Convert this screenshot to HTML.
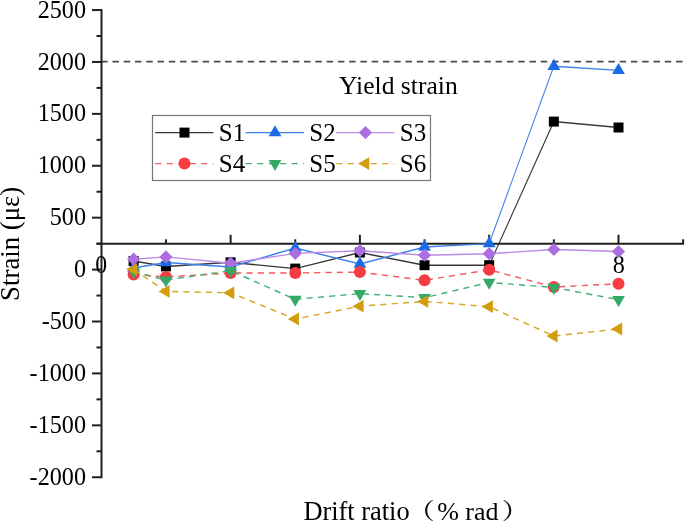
<!DOCTYPE html>
<html><head><meta charset="utf-8"><style>
html,body{margin:0;padding:0;background:#fff;width:685px;height:522px;overflow:hidden}
svg{display:block;filter:blur(0.5px)}
text{font-family:"Liberation Serif",serif;fill:#000}
</style></head><body>
<svg width="685" height="522" viewBox="0 0 685 522">
<rect width="685" height="522" fill="#fff"/>
<line x1="101.2" y1="61.6" x2="683" y2="61.6" stroke="#4a4a4a" stroke-width="1.7" stroke-dasharray="6.5 4.77"/>
<text x="339" y="94" font-size="25.6">Yield strain</text>
<line x1="101.5" y1="9" x2="101.5" y2="478.2" stroke="#1f1f1f" stroke-width="2"/>
<line x1="96.5" y1="243.8" x2="684" y2="243.8" stroke="#1f1f1f" stroke-width="2"/>
<line x1="92" y1="10.05" x2="101" y2="10.05" stroke="#1f1f1f" stroke-width="2"/>
<text transform="translate(86,17.65) scale(0.93,1)" font-size="26" text-anchor="end">2500</text>
<line x1="96.5" y1="36.01" x2="101" y2="36.01" stroke="#1f1f1f" stroke-width="2"/>
<line x1="92" y1="61.96" x2="101" y2="61.96" stroke="#1f1f1f" stroke-width="2"/>
<text transform="translate(86,69.56) scale(0.93,1)" font-size="26" text-anchor="end">2000</text>
<line x1="96.5" y1="87.92" x2="101" y2="87.92" stroke="#1f1f1f" stroke-width="2"/>
<line x1="92" y1="113.87" x2="101" y2="113.87" stroke="#1f1f1f" stroke-width="2"/>
<text transform="translate(86,121.47) scale(0.93,1)" font-size="26" text-anchor="end">1500</text>
<line x1="96.5" y1="139.83" x2="101" y2="139.83" stroke="#1f1f1f" stroke-width="2"/>
<line x1="92" y1="165.78" x2="101" y2="165.78" stroke="#1f1f1f" stroke-width="2"/>
<text transform="translate(86,173.38) scale(0.93,1)" font-size="26" text-anchor="end">1000</text>
<line x1="96.5" y1="191.74" x2="101" y2="191.74" stroke="#1f1f1f" stroke-width="2"/>
<line x1="92" y1="217.69" x2="101" y2="217.69" stroke="#1f1f1f" stroke-width="2"/>
<text transform="translate(86,225.29) scale(0.93,1)" font-size="26" text-anchor="end">500</text>
<line x1="96.5" y1="243.65" x2="101" y2="243.65" stroke="#1f1f1f" stroke-width="2"/>
<line x1="92" y1="269.60" x2="101" y2="269.60" stroke="#1f1f1f" stroke-width="2"/>
<text transform="translate(86,277.20) scale(0.93,1)" font-size="26" text-anchor="end">0</text>
<line x1="96.5" y1="295.56" x2="101" y2="295.56" stroke="#1f1f1f" stroke-width="2"/>
<line x1="92" y1="321.51" x2="101" y2="321.51" stroke="#1f1f1f" stroke-width="2"/>
<text transform="translate(86,329.11) scale(0.93,1)" font-size="26" text-anchor="end">-500</text>
<line x1="96.5" y1="347.47" x2="101" y2="347.47" stroke="#1f1f1f" stroke-width="2"/>
<line x1="92" y1="373.42" x2="101" y2="373.42" stroke="#1f1f1f" stroke-width="2"/>
<text transform="translate(86,381.02) scale(0.93,1)" font-size="26" text-anchor="end">-1000</text>
<line x1="96.5" y1="399.38" x2="101" y2="399.38" stroke="#1f1f1f" stroke-width="2"/>
<line x1="92" y1="425.33" x2="101" y2="425.33" stroke="#1f1f1f" stroke-width="2"/>
<text transform="translate(86,432.93) scale(0.93,1)" font-size="26" text-anchor="end">-1500</text>
<line x1="96.5" y1="451.29" x2="101" y2="451.29" stroke="#1f1f1f" stroke-width="2"/>
<line x1="92" y1="477.24" x2="101" y2="477.24" stroke="#1f1f1f" stroke-width="2"/>
<text transform="translate(86,484.84) scale(0.93,1)" font-size="26" text-anchor="end">-2000</text>
<line x1="165.95" y1="239.30" x2="165.95" y2="243.8" stroke="#1f1f1f" stroke-width="2"/>
<line x1="230.60" y1="234.80" x2="230.60" y2="243.8" stroke="#1f1f1f" stroke-width="2"/>
<line x1="295.25" y1="239.30" x2="295.25" y2="243.8" stroke="#1f1f1f" stroke-width="2"/>
<line x1="359.90" y1="234.80" x2="359.90" y2="243.8" stroke="#1f1f1f" stroke-width="2"/>
<line x1="424.55" y1="239.30" x2="424.55" y2="243.8" stroke="#1f1f1f" stroke-width="2"/>
<line x1="489.20" y1="234.80" x2="489.20" y2="243.8" stroke="#1f1f1f" stroke-width="2"/>
<line x1="553.85" y1="239.30" x2="553.85" y2="243.8" stroke="#1f1f1f" stroke-width="2"/>
<line x1="618.50" y1="234.80" x2="618.50" y2="243.8" stroke="#1f1f1f" stroke-width="2"/>
<line x1="683.15" y1="239.30" x2="683.15" y2="243.8" stroke="#1f1f1f" stroke-width="2"/>
<text transform="translate(101.3,273.2) scale(0.95,1)" font-size="25" text-anchor="middle">0</text>
<text transform="translate(618.7,273.2) scale(0.93,1)" font-size="26" text-anchor="middle">8</text>
<polyline transform="scale(0.72,1)" points="185.59,261.00 230.49,266.40 320.28,262.30 410.07,268.60 499.86,252.50 589.65,265.20 679.44,265.20 769.24,121.60 859.03,127.50" fill="none" stroke="#383838" stroke-width="1.45"/>
<rect x="128.62" y="256.00" width="10" height="10" fill="#000000"/>
<rect x="160.95" y="261.40" width="10" height="10" fill="#000000"/>
<rect x="225.60" y="257.30" width="10" height="10" fill="#000000"/>
<rect x="290.25" y="263.60" width="10" height="10" fill="#000000"/>
<rect x="354.90" y="247.50" width="10" height="10" fill="#000000"/>
<rect x="419.55" y="260.20" width="10" height="10" fill="#000000"/>
<rect x="484.20" y="260.20" width="10" height="10" fill="#000000"/>
<rect x="548.85" y="116.60" width="10" height="10" fill="#000000"/>
<rect x="613.50" y="122.50" width="10" height="10" fill="#000000"/>
<polyline transform="scale(0.72,1)" points="185.59,268.00 230.49,262.60 320.28,267.00 410.07,248.10 499.86,264.00 589.65,247.00 679.44,243.60 769.24,66.20 859.03,70.40" fill="none" stroke="#3a82ea" stroke-width="1.45"/>
<polygon points="133.62,260.61 140.03,271.69 127.22,271.69" fill="#1b6be6"/>
<polygon points="165.95,255.21 172.35,266.29 159.55,266.29" fill="#1b6be6"/>
<polygon points="230.60,259.61 237.00,270.69 224.20,270.69" fill="#1b6be6"/>
<polygon points="295.25,240.71 301.65,251.79 288.85,251.79" fill="#1b6be6"/>
<polygon points="359.90,256.61 366.30,267.69 353.50,267.69" fill="#1b6be6"/>
<polygon points="424.55,239.61 430.95,250.69 418.15,250.69" fill="#1b6be6"/>
<polygon points="489.20,236.21 495.60,247.29 482.80,247.29" fill="#1b6be6"/>
<polygon points="553.85,58.81 560.25,69.89 547.45,69.89" fill="#1b6be6"/>
<polygon points="618.50,63.01 624.90,74.09 612.10,74.09" fill="#1b6be6"/>
<polyline transform="scale(0.72,1)" points="185.59,259.20 230.49,256.90 320.28,263.20 410.07,253.40 499.86,250.70 589.65,255.20 679.44,253.70 769.24,249.50 859.03,251.50" fill="none" stroke="#bd8ae8" stroke-width="1.45"/>
<polygon points="133.62,252.60 140.22,259.20 133.62,265.80 127.03,259.20" fill="#ad6fe0"/>
<polygon points="165.95,250.30 172.55,256.90 165.95,263.50 159.35,256.90" fill="#ad6fe0"/>
<polygon points="230.60,256.60 237.20,263.20 230.60,269.80 224.00,263.20" fill="#ad6fe0"/>
<polygon points="295.25,246.80 301.85,253.40 295.25,260.00 288.65,253.40" fill="#ad6fe0"/>
<polygon points="359.90,244.10 366.50,250.70 359.90,257.30 353.30,250.70" fill="#ad6fe0"/>
<polygon points="424.55,248.60 431.15,255.20 424.55,261.80 417.95,255.20" fill="#ad6fe0"/>
<polygon points="489.20,247.10 495.80,253.70 489.20,260.30 482.60,253.70" fill="#ad6fe0"/>
<polygon points="553.85,242.90 560.45,249.50 553.85,256.10 547.25,249.50" fill="#ad6fe0"/>
<polygon points="618.50,244.90 625.10,251.50 618.50,258.10 611.90,251.50" fill="#ad6fe0"/>
<polyline points="133.62,274.40 165.95,277.00 230.60,273.00 295.25,273.00 359.90,272.10 424.55,280.30 489.20,269.80 553.85,287.00 618.50,283.80" fill="none" stroke="#f45a5f" stroke-width="1.45" stroke-dasharray="6.2 5.1"/>
<circle cx="133.62" cy="274.40" r="6" fill="#f43c42"/>
<circle cx="165.95" cy="277.00" r="6" fill="#f43c42"/>
<circle cx="230.60" cy="273.00" r="6" fill="#f43c42"/>
<circle cx="295.25" cy="273.00" r="6" fill="#f43c42"/>
<circle cx="359.90" cy="272.10" r="6" fill="#f43c42"/>
<circle cx="424.55" cy="280.30" r="6" fill="#f43c42"/>
<circle cx="489.20" cy="269.80" r="6" fill="#f43c42"/>
<circle cx="553.85" cy="287.00" r="6" fill="#f43c42"/>
<circle cx="618.50" cy="283.80" r="6" fill="#f43c42"/>
<polyline points="133.62,271.70 165.95,280.10 230.60,270.70 295.25,299.40 359.90,293.60 424.55,297.70 489.20,282.40 553.85,287.50 618.50,299.60" fill="none" stroke="#45b075" stroke-width="1.45" stroke-dasharray="6.2 5.1"/>
<polygon points="133.62,279.09 140.03,268.01 127.22,268.01" fill="#33aa66"/>
<polygon points="165.95,287.49 172.35,276.41 159.55,276.41" fill="#33aa66"/>
<polygon points="230.60,278.09 237.00,267.01 224.20,267.01" fill="#33aa66"/>
<polygon points="295.25,306.79 301.65,295.71 288.85,295.71" fill="#33aa66"/>
<polygon points="359.90,300.99 366.30,289.91 353.50,289.91" fill="#33aa66"/>
<polygon points="424.55,305.09 430.95,294.01 418.15,294.01" fill="#33aa66"/>
<polygon points="489.20,289.79 495.60,278.71 482.80,278.71" fill="#33aa66"/>
<polygon points="553.85,294.89 560.25,283.81 547.45,283.81" fill="#33aa66"/>
<polygon points="618.50,306.99 624.90,295.91 612.10,295.91" fill="#33aa66"/>
<polyline points="133.62,269.40 165.95,291.40 230.60,292.80 295.25,319.00 359.90,306.20 424.55,301.40 489.20,306.70 553.85,336.00 618.50,329.00" fill="none" stroke="#d8a828" stroke-width="1.45" stroke-dasharray="6.2 5.1"/>
<polygon points="126.24,269.40 137.32,263.00 137.32,275.80" fill="#d29c0c"/>
<polygon points="158.56,291.40 169.64,285.00 169.64,297.80" fill="#d29c0c"/>
<polygon points="223.21,292.80 234.29,286.40 234.29,299.20" fill="#d29c0c"/>
<polygon points="287.86,319.00 298.94,312.60 298.94,325.40" fill="#d29c0c"/>
<polygon points="352.51,306.20 363.59,299.80 363.59,312.60" fill="#d29c0c"/>
<polygon points="417.16,301.40 428.24,295.00 428.24,307.80" fill="#d29c0c"/>
<polygon points="481.81,306.70 492.89,300.30 492.89,313.10" fill="#d29c0c"/>
<polygon points="546.46,336.00 557.54,329.60 557.54,342.40" fill="#d29c0c"/>
<polygon points="611.11,329.00 622.19,322.60 622.19,335.40" fill="#d29c0c"/>
<rect x="152.5" y="115.5" width="278" height="65" fill="none" stroke="#777" stroke-width="1.2"/>
<line x1="155.1" y1="132.6" x2="213.4" y2="132.6" stroke="#383838" stroke-width="1.45"/>
<rect x="179.50" y="127.60" width="10" height="10" fill="#000000"/>
<text x="218.8" y="141.2" font-size="25">S1</text>
<line x1="245.6" y1="132.6" x2="303.9" y2="132.6" stroke="#3a82ea" stroke-width="1.45"/>
<polygon points="275.00,125.21 281.40,136.29 268.60,136.29" fill="#1b6be6"/>
<text x="309.3" y="141.2" font-size="25">S2</text>
<line x1="336.1" y1="132.6" x2="394.4" y2="132.6" stroke="#bd8ae8" stroke-width="1.45"/>
<polygon points="365.50,126.00 372.10,132.60 365.50,139.20 358.90,132.60" fill="#ad6fe0"/>
<text x="399.8" y="141.2" font-size="25">S3</text>
<line x1="155.1" y1="163.6" x2="213.4" y2="163.6" stroke="#f45a5f" stroke-width="1.45" stroke-dasharray="6.2 5.3"/>
<circle cx="184.50" cy="163.60" r="6" fill="#f43c42"/>
<text x="218.8" y="172.2" font-size="25">S4</text>
<line x1="245.6" y1="163.6" x2="303.9" y2="163.6" stroke="#45b075" stroke-width="1.45" stroke-dasharray="6.2 5.3"/>
<polygon points="275.00,170.99 281.40,159.91 268.60,159.91" fill="#33aa66"/>
<text x="309.3" y="172.2" font-size="25">S5</text>
<line x1="336.1" y1="163.6" x2="394.4" y2="163.6" stroke="#d8a828" stroke-width="1.45" stroke-dasharray="6.2 5.3"/>
<polygon points="358.11,163.60 369.19,157.20 369.19,170.00" fill="#d29c0c"/>
<text x="399.8" y="172.2" font-size="25">S6</text>
<text transform="translate(18.7,243.8) rotate(-90)" font-size="26.8" text-anchor="middle">Strain (με)</text>
<text x="303.4" y="520" font-size="26.4">Drift ratio</text>
<path d="M432.6,500 C422.6,504 422.6,517 432.6,521 L432.9,520.5 C425.4,516.5 425.4,504.5 432.9,500.5 Z" fill="#111"/>
<text x="437.3" y="520" font-size="26">%</text>
<text x="465.3" y="520" font-size="26">rad</text>
<path d="M503.8,500 C513.8,504 513.8,517 503.8,521 L503.5,520.5 C511,516.5 511,504.5 503.5,500.5 Z" fill="#111"/>
</svg></body></html>
